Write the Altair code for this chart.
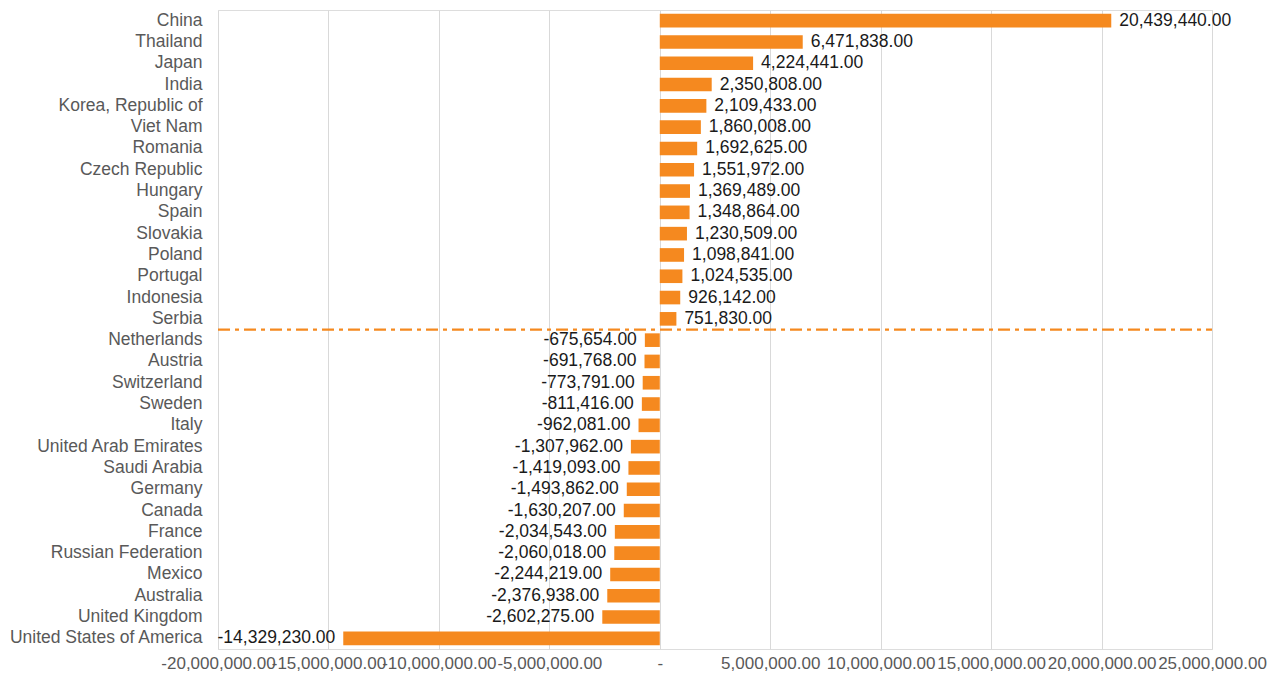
import altair as alt
import pandas as pd

countries = [
    "China", "Thailand", "Japan", "India", "Korea, Republic of", "Viet Nam",
    "Romania", "Czech Republic", "Hungary", "Spain", "Slovakia", "Poland",
    "Portugal", "Indonesia", "Serbia", "Netherlands", "Austria", "Switzerland",
    "Sweden", "Italy", "United Arab Emirates", "Saudi Arabia", "Germany",
    "Canada", "France", "Russian Federation", "Mexico", "Australia",
    "United Kingdom", "United States of America",
]
values = [
    20439440.00, 6471838.00, 4224441.00, 2350808.00, 2109433.00, 1860008.00,
    1692625.00, 1551972.00, 1369489.00, 1348864.00, 1230509.00, 1098841.00,
    1024535.00, 926142.00, 751830.00, -675654.00, -691768.00, -773791.00,
    -811416.00, -962081.00, -1307962.00, -1419093.00, -1493862.00,
    -1630207.00, -2034543.00, -2060018.00, -2244219.00, -2376938.00,
    -2602275.00, -14329230.00,
]
x_ticks = [-20000000, -15000000, -10000000, -5000000, 0,
           5000000, 10000000, 15000000, 20000000, 25000000]
divider_before = "Netherlands"

df = pd.DataFrame({"country": countries, "value": values})

FONT = "Liberation Sans"
ORANGE = "#F5891F"
NUM_SIZE = 17.5
AXIS_SIZE = 17
CAT_SIZE = 17.5
MINUS = "\u2212"

y_enc = alt.Y(
    "country:N", sort=countries, title=None,
    scale=alt.Scale(paddingInner=0.36, paddingOuter=0.18),
    axis=alt.Axis(domain=False, ticks=False, grid=False, labelPadding=16,
                  labelFont=FONT, labelFontSize=CAT_SIZE, labelColor="#595959",
                  labelLimit=400),
)
x_scale = alt.Scale(domain=[x_ticks[0], x_ticks[-1]], nice=False, zero=False)
x_enc = alt.X(
    "value:Q", title=None, scale=x_scale,
    axis=alt.Axis(values=x_ticks, domain=False, ticks=False, grid=True,
                  gridColor="#D9D9D9", gridWidth=1, labelPadding=6,
                  labelFont=FONT, labelFontSize=AXIS_SIZE, labelColor="#595959",
                  labelOverlap=False, labelFlush=False,
                  labelExpr="datum.value == 0 ? '-' : replace(format(datum.value, ',.2f'), '" + MINUS + "', '-')"),
)

bars = alt.Chart(df).mark_bar(color=ORANGE).encode(x=x_enc, y=y_enc)

base_text = alt.Chart(df).transform_calculate(
    label="replace(format(datum.value, ',.2f'), '" + MINUS + "', '-')"
).encode(
    x=alt.X("value:Q", scale=x_scale),
    y=alt.Y("country:N", sort=countries),
    text=alt.Text("label:N"),
)
pos_text = base_text.transform_filter("datum.value >= 0").mark_text(
    align="left", baseline="middle", dx=8, font=FONT, fontSize=NUM_SIZE, color="#1A1A1A")
neg_text = base_text.transform_filter("datum.value < 0").mark_text(
    align="right", baseline="middle", dx=-8, font=FONT, fontSize=NUM_SIZE, color="#1A1A1A")

rule_df = pd.DataFrame({"country": [divider_before], "x0": [x_ticks[0]], "x1": [x_ticks[-1]]})
rule = alt.Chart(rule_df).mark_rule(
    color=ORANGE, strokeWidth=2.2, strokeDash=[12, 5, 4, 5], yOffset=-3.8
).encode(
    x=alt.X("x0:Q", scale=x_scale),
    x2="x1:Q",
    y=alt.Y("country:N", sort=countries, bandPosition=0),
)

chart = alt.layer(bars, pos_text, neg_text, rule).properties(
    width=994, height=639,
    autosize=alt.AutoSizeParams(type="none"),
    padding={"left": 210, "top": 2, "right": 55, "bottom": 23},
).configure_view(stroke=None).configure(background="white")

chart.save("out.html", embed_options={"renderer": "svg", "actions": False})
